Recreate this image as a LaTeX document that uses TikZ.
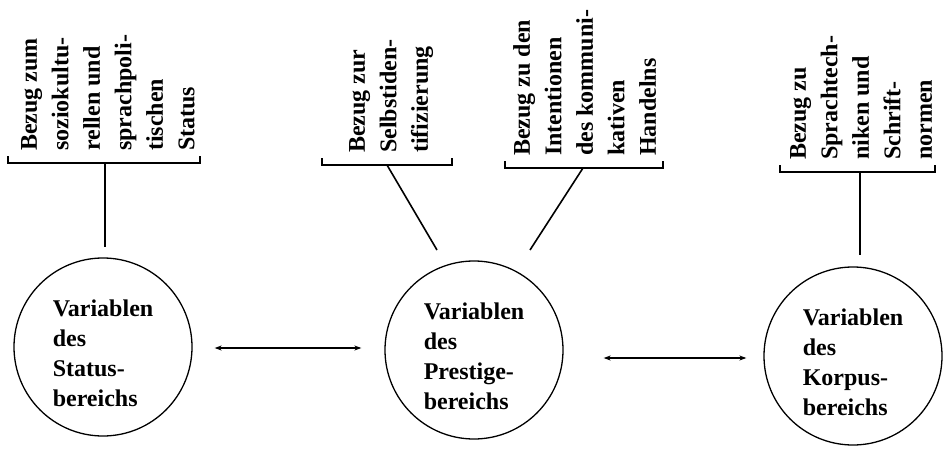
\documentclass[tikz,border=0pt]{standalone}
\usepackage{fontspec}
\setmainfont{Liberation Serif}
\usetikzlibrary{arrows.meta}

\newcommand{\obenluft}{\rule{0pt}{29pt}}

\begin{document}
\begin{tikzpicture}[x=1pt,y=-1pt,>={Stealth[length=7pt,width=5pt]},
	bereich/.style={circle,draw,line width=1.3pt,minimum size=178pt,inner sep=0pt,align=left,font=\bfseries\fontsize{24}{30}\selectfont},
	bezug/.style={rotate=90,anchor=north west,inner sep=0pt,align=left,font=\bfseries\fontsize{24}{31.5}\selectfont},
	klammer/.style={line width=1.4pt},
	stiel/.style={line width=1.6pt},
	pfeil/.style={<->,line width=1.4pt}]

	\useasboundingbox (0,0) rectangle (945,455);

	%Bereiche
	\node[bereich] (status) at (103,347) {\obenluft Variablen\\des\\Status-\\bereichs};
	\node[bereich] (prestige) at (474,350) {\obenluft Variablen\\des\\Prestige-\\bereichs};
	\node[bereich] (korpus) at (853,356) {\obenluft Variablen\\des\\Korpus-\\bereichs};

	%Bezuege
	\node[bezug] (bzStatus) at (21,151) {Bezug zum\\soziokultu-\\rellen und\\sprachpoli-\\tischen\\Status};
	\node[bezug] (bzSelbst) at (349,153) {Bezug zur\\Selbstiden-\\tifizierung};
	\node[bezug] (bzIntent) at (513,156) {Bezug zu den\\Intentionen\\des kommuni-\\kativen\\Handelns};
	\node[bezug] (bzSprach) at (790,160) {Bezug zu\\Sprachtech-\\niken und\\Schrift-\\normen};

	%Klammern
	\draw[klammer] (8,156) |- (200,163) -- (200,156);
	\draw[klammer] (322,158) |- (452,165) -- (452,158);
	\draw[klammer] (505,161) |- (663,168) -- (663,161);
	\draw[klammer] (780,165) |- (935,172) -- (935,165);

	\coordinate (k1) at (105,163);
	\coordinate (k2) at (387,165);
	\coordinate (k3) at (583,168);
	\coordinate (k4) at (860,172);
	\coordinate (e1) at (105,247);
	\coordinate (e2) at (437,250);
	\coordinate (e3) at (530,250);
	\coordinate (e4) at (860,255);

	\draw[stiel] (k1) -- (e1);
	\draw[stiel] (k2) -- (e2);
	\draw[stiel] (k3) -- (e3);
	\draw[stiel] (k4) -- (e4);

	%Pfeile
	\draw[pfeil] ([xshift=22pt,yshift=-1pt]status.east) -- ([xshift=-23pt,yshift=2pt]prestige.west);
	\draw[pfeil] ([xshift=40pt,yshift=-8pt]prestige.east) -- ([xshift=-17pt,yshift=-2pt]korpus.west);

\end{tikzpicture}
\end{document}
